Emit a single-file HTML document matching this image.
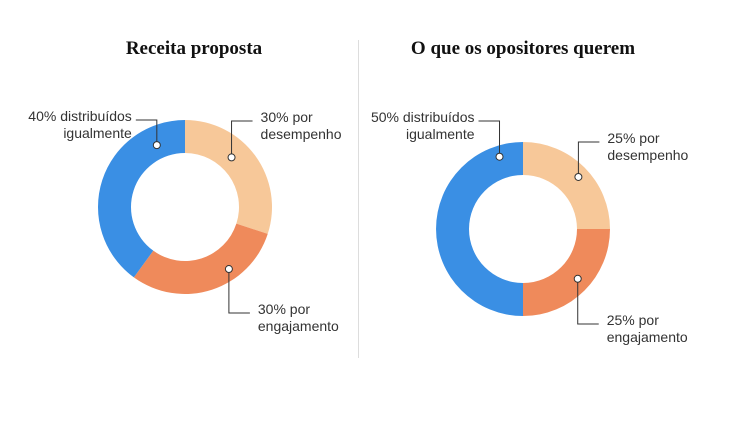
<!DOCTYPE html>
<html><head><meta charset="utf-8"><style>
body{margin:0;background:#fff}
svg{display:block}
text{font-family:"Liberation Sans",sans-serif;font-size:14px;fill:#333}
.t{font-family:"Liberation Serif",serif;font-weight:bold;font-size:19px;fill:#111}
</style></head><body>
<svg id="c" width="730" height="424">
<text class="t" x="194" y="54" text-anchor="middle">Receita proposta</text>
<text class="t" x="523" y="54" text-anchor="middle">O que os opositores querem</text>
<line x1="358.5" y1="40" x2="358.5" y2="358" stroke="#ddd"/>
</svg>
<script>
const categories=["desempenho","engajamento","distribuidos"];
const leftValues=[30,30,40];
const rightValues=[25,25,50];
const leftLabels=[["30% por","desempenho"],["30% por","engajamento"],["40% distribuídos","igualmente"]];
const rightLabels=[["25% por","desempenho"],["25% por","engajamento"],["50% distribuídos","igualmente"]];
const colors=["#f7c899","#ef8a5b","#3a8fe4"];
const NS="http://www.w3.org/2000/svg",svg=document.getElementById('c');
function mk(t,a){const e=document.createElementNS(NS,t);for(const k in a)e.setAttribute(k,a[k]);svg.appendChild(e);return e;}
function pt(cx,cy,r,a){return [cx+r*Math.sin(a),cy-r*Math.cos(a)];}
function donut(side,cx,cy,vals,labels,fr,dr,ly){
 const R=87,r=54,tot=vals.reduce((a,b)=>a+b,0);let s=0;
 vals.forEach((v,i)=>{
  const a0=s/tot*2*Math.PI,a1=(s+v)/tot*2*Math.PI;s+=v;
  const L=a1-a0>Math.PI?1:0,p=[pt(cx,cy,R,a0),pt(cx,cy,R,a1),pt(cx,cy,r,a1),pt(cx,cy,r,a0)];
  const e=mk('path',{d:`M${p[0]}A${R},${R} 0 ${L} 1 ${p[1]}L${p[2]}A${r},${r} 0 ${L} 0 ${p[3]}Z`,fill:colors[i]});
  
  
  const am=a0+(a1-a0)*fr[i],d=pt(cx,cy,dr[i],am);
  const right=i<2,hx=right?d[0]+21:d[0]-21,y=ly[i];
  const ln=mk('polyline',{points:`${d} ${d[0]},${y} ${hx},${y}`,fill:'none',stroke:'#333','stroke-width':1});
  
  
  const c=mk('circle',{cx:d[0],cy:d[1],r:3.5,fill:'#fff',stroke:'#333','stroke-width':1});
  
  
  const tx=right?hx+8:hx-4;
  const t=mk('text',{x:tx,y:y+1,'text-anchor':right?'start':'end'});
  
  
  labels[i].forEach((s2,j)=>{const ts=document.createElementNS(NS,'tspan');ts.setAttribute('x',tx);ts.setAttribute('dy',j?17:0);ts.textContent=s2;t.appendChild(ts);});
 });
}
donut('left',185,207,leftValues,leftLabels,[0.4,0.34,0.83],[68,76,68],[121,313,120]);
donut('right',523,229,rightValues,rightLabels,[0.52,0.47,0.9],[76,74,76],[142,324,121]);
</script>
</body></html>
